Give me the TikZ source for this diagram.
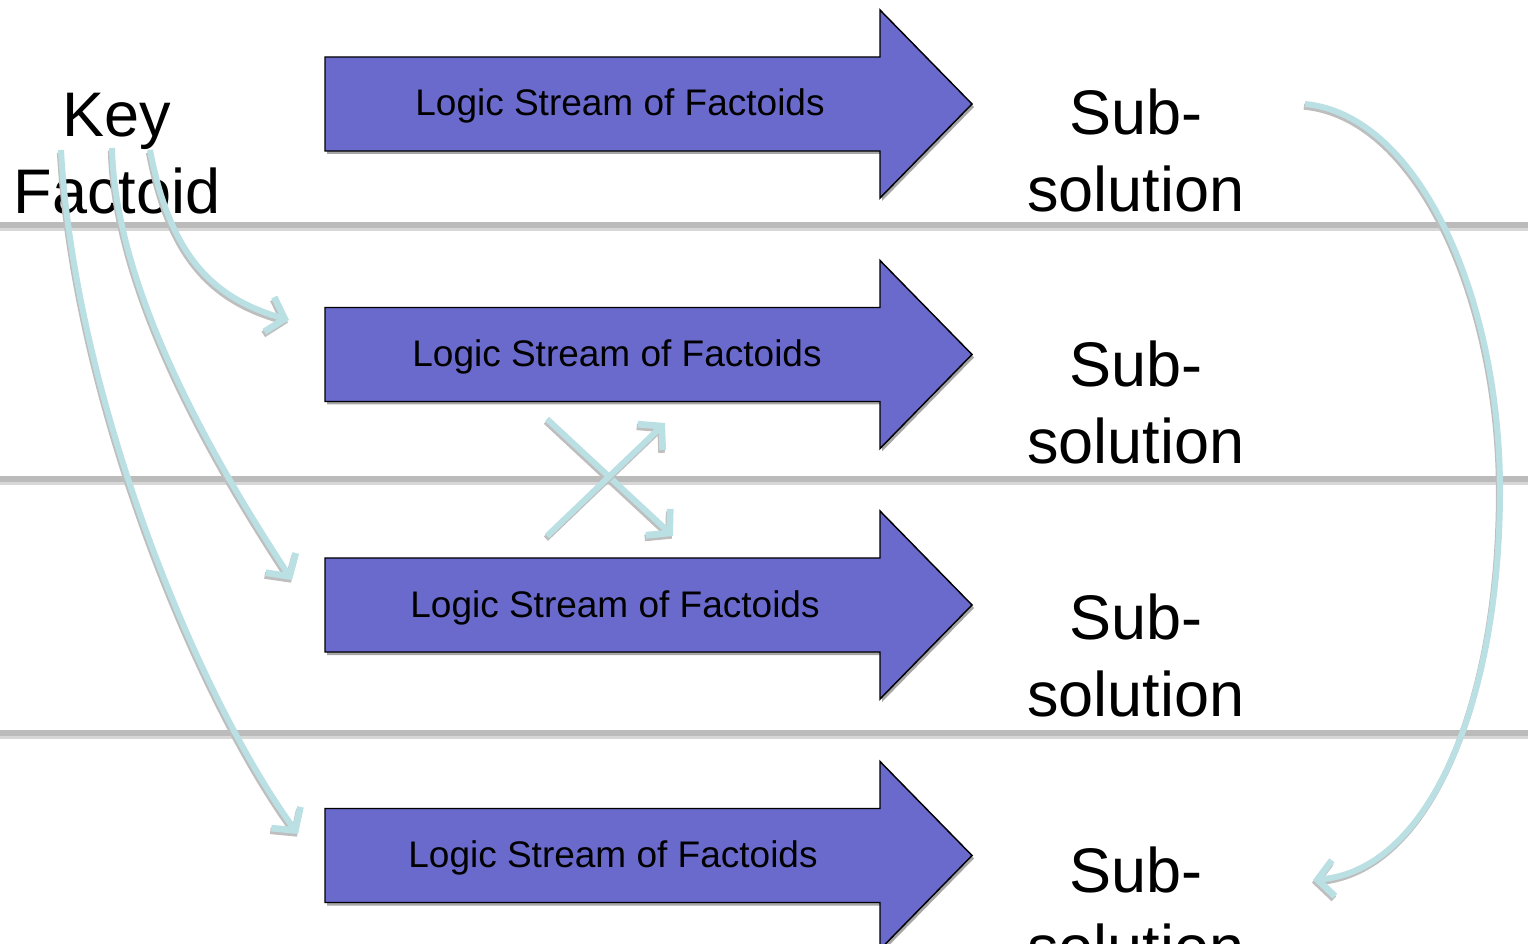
\documentclass[tikz,border=0pt]{standalone}
\usepackage{fontspec}
\setmainfont{Liberation Sans}
\usetikzlibrary{arrows.meta,shadows}
\definecolor{streamfill}{RGB}{106,106,204}
\definecolor{flowblue}{RGB}{186,224,228}
\definecolor{flowshade}{RGB}{190,190,190}
\definecolor{rulegray}{RGB}{187,187,187}
\definecolor{ruleshade}{RGB}{215,215,215}

% a flow connector: a soft grey shadow first, then the light blue stroke
\newcommand\flowpath[1]{%
  \draw[flowshadow] #1;
  \draw[flow] #1;}

\begin{document}
\begin{tikzpicture}[x=0.75pt,y=-0.75pt,
  streambox/.style={fill=streamfill, draw=black, line width=1.1pt, line join=miter,
    drop shadow={shadow xshift=1.5pt, shadow yshift=-2.25pt, fill=black!35, opacity=1}},
  streamtext/.style={font=\fontsize{27.75pt}{33pt}\selectfont, inner sep=0pt, anchor=base},
  bigtext/.style={font=\fontsize{47.25pt}{57.75pt}\selectfont, align=center, inner sep=0pt},
  flowtip/.style={-{Straight Barb[length=12pt,width=27pt,line width'=5pt]}},
  flow/.style={draw=flowblue, line width=4.5pt, flowtip},
  flowshadow/.style={draw=flowshade, line width=4.5pt, flowtip,
    transform canvas={xshift=-0.8pt, yshift=-2pt}},
  separator/.style={draw=rulegray, line width=4pt},
  separatorshade/.style={draw=ruleshade, line width=3pt}
]
\useasboundingbox (0,0) rectangle (1528,944);
\clip (0,0) rectangle (1528,944);

% horizontal separators between the streams
\foreach \y in {225,479,733} {
  \draw[separatorshade] (0,\y+4) -- (1528,\y+4);
  \draw[separator] (0,\y) -- (1528,\y);
}

% block arrows with their labels, and the sub-solutions
\foreach \i/\c/\tx/\sy in {1/104/620/150, 2/354.5/617/402, 3/605/615/655, 4/855.5/613/908} {
  \draw[streambox] (325,\c-47) -- (880,\c-47) -- (880,\c-94) -- (972,\c)
    -- (880,\c+94) -- (880,\c+47) -- (325,\c+47) -- cycle;
  \node[streamtext] (ls\i) at (\tx,\c+12) {Logic Stream of Factoids};
  \node[bigtext] (sub\i) at (1136,\sy) {Sub-\\solution};
}

\node[bigtext] (key) at (117,154) {Key\\Factoid};

% connector end points
\coordinate (kA) at (150,150);
\coordinate (kB) at (112,148);
\coordinate (kC) at (61,150);
\coordinate (tA) at (289,320);
\coordinate (tB) at (292,580);
\coordinate (tC) at (298,834);
\coordinate (xAs) at (547,419);
\coordinate (xAe) at (673,536);
\coordinate (xBs) at (547,536);
\coordinate (xBe) at (665,423);
\coordinate (rS) at (1305,104);
\coordinate (rM) at (1500,490);
\coordinate (rE) at (1313,880);

% key factoid feeding the lower streams
\flowpath{(kA) .. controls (170,255) and (212,298) .. (tA)}
\flowpath{(kB) .. controls (115,280) and (200,440) .. (tB)}
\flowpath{(kC) .. controls (75,400) and (200,700) .. (tC)}

% exchange between the second and third streams
\flowpath{(xAs) -- (xAe)}
\flowpath{(xBs) -- (xBe)}

% first sub-solution carried down to the last
\flowpath{(rS) .. controls (1420,115) and (1500,300) .. (rM)
  .. controls (1500,700) and (1430,870) .. (rE)}
\end{tikzpicture}
\end{document}
